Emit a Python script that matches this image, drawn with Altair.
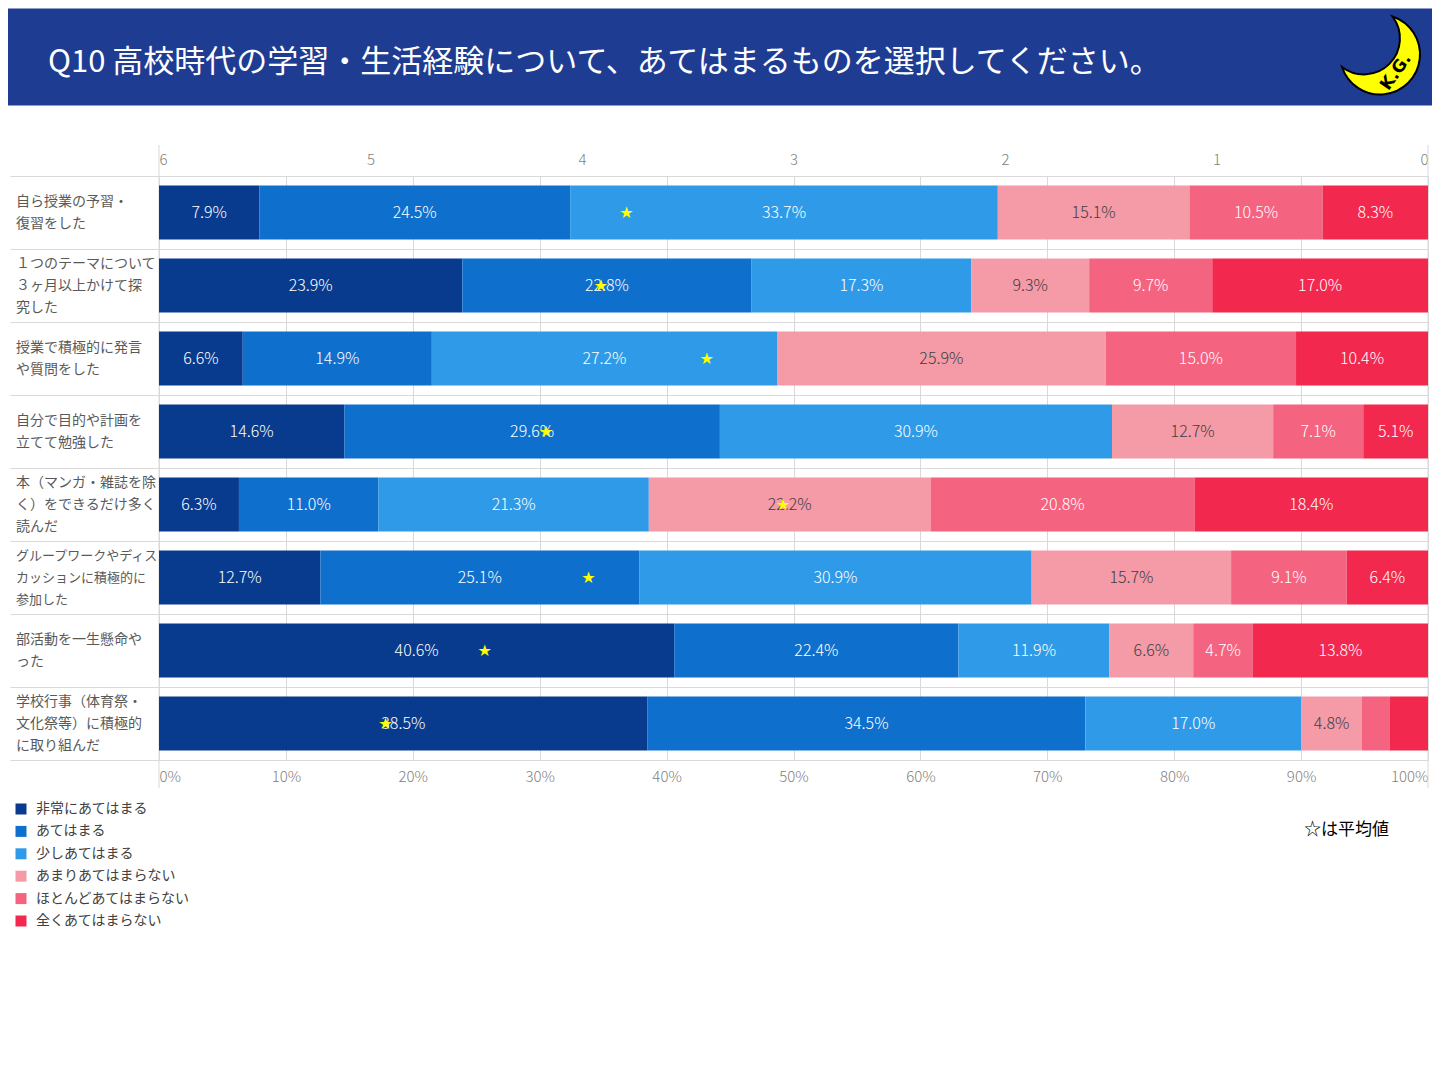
import altair as alt
import pandas as pd

FONT = "Noto Sans CJK JP"

title_text = ["Q10 高校時代の学習・生活経験について、あてはまるものを選択してください。"]
note_text = ["☆は平均値"]
logo_text = ["K.G."]

questions = [
    "自ら授業の予習・\n復習をした",
    "１つのテーマについて\n３ヶ月以上かけて探\n究した",
    "授業で積極的に発言\nや質問をした",
    "自分で目的や計画を\n立てて勉強した",
    "本（マンガ・雑誌を除\nく）をできるだけ多く\n読んだ",
    "グループワークやディス\nカッションに積極的に\n参加した",
    "部活動を一生懸命や\nった",
    "学校行事（体育祭・\n文化祭等）に積極的\nに取り組んだ",
]
categories = ["非常にあてはまる", "あてはまる", "少しあてはまる",
              "あまりあてはまらない", "ほとんどあてはまらない", "全くあてはまらない"]
colors = ["#083b8d", "#0f6fcd", "#2f9be8", "#f59aa7", "#f4637f", "#f2284f"]

s_very = [7.9, 23.9, 6.6, 14.6, 6.3, 12.7, 40.6, 38.5]
s_yes = [24.5, 22.8, 14.9, 29.6, 11.0, 25.1, 22.4, 34.5]
s_some = [33.7, 17.3, 27.2, 30.9, 21.3, 30.9, 11.9, 17.0]
s_notmuch = [15.1, 9.3, 25.9, 12.7, 22.2, 15.7, 6.6, 4.8]
s_hardly = [10.5, 9.7, 15.0, 7.1, 20.8, 9.1, 4.7, 2.2]
s_none = [8.3, 17.0, 10.4, 5.1, 18.4, 6.4, 13.8, 3.0]
means = [3.79, 3.91, 3.41, 4.17, 3.05, 3.97, 4.46, 4.93]

top_ticks = [6, 5, 4, 3, 2, 1, 0]
bottom_ticks = [0, 0.1, 0.2, 0.3, 0.4, 0.5, 0.6, 0.7, 0.8, 0.9, 1.0]
edge_vals = [0, 1]

series = [s_very, s_yes, s_some, s_notmuch, s_hardly, s_none]
rows = []
for qi, q in enumerate(questions):
    for ci, c in enumerate(categories):
        rows.append({"q": q, "cat": c, "order": ci, "pct": series[ci][qi]})
df = pd.DataFrame(rows)
df_mean = pd.DataFrame({"q": questions, "mean": means})

W, H = 1269, 584

yaxis = alt.Axis(
    grid=True, gridColor="#d9d9d9", tickBand="extent", ticks=True,
    tickColor="#d9d9d9", tickSize=149, domain=False, labels=False,
)
Y = alt.Y("q:N", scale=alt.Scale(domain=questions, paddingInner=0, paddingOuter=0),
          axis=yaxis, title=None)

stacked = alt.Chart(df).transform_stack(
    stack="pct", as_=["x0", "x1"], groupby=["q"], offset="normalize",
    sort=[alt.SortField("order", order="ascending")],
).transform_calculate(
    mid="(datum.x0 + datum.x1) / 2",
    lbl="format(datum.pct, '.1f') + '%'",
)

bars = stacked.mark_bar(height={"band": 0.74}).encode(
    x=alt.X("x0:Q", scale=alt.Scale(domain=[0, 1]), title=None,
            axis=alt.Axis(orient="bottom", values=bottom_ticks, format=".0%", grid=True,
                          gridColor="#d9d9d9", ticks=False, domain=False, labelFlush=True,
                          labelColor="#7f7f7f", labelFontSize=15, labelPadding=9,
                          labelFont=FONT, labelFontWeight=300)),
    x2="x1:Q",
    y=Y,
    color=alt.Color("cat:N", scale=alt.Scale(domain=categories, range=colors),
                    legend=alt.Legend(title=None, orient="none", legendX=-145, legendY=626,
                                      symbolType="square", symbolSize=121, labelFontSize=14,
                                      labelColor="#404040", rowPadding=8.4, labelFont=FONT,
                                      labelOffset=8, labelLimit=400, symbolStrokeWidth=0,
                                      padding=0)),
    order=alt.Order("order:Q"),
)

labels = stacked.transform_filter("datum.pct >= 4").mark_text(
    fontSize=16, font=FONT, fontWeight=300, baseline="middle", align="center"
).encode(
    x=alt.X("mid:Q", scale=alt.Scale(domain=[0, 1]), axis=None),
    y=Y,
    text="lbl:N",
    color=alt.condition("datum.cat == 'あまりあてはまらない'", alt.value("#404040"), alt.value("#ffffff")),
)

edges = alt.Chart(pd.DataFrame({"v": edge_vals})).mark_rule(color="#d9d9d9").encode(
    x=alt.X("v:Q", scale=alt.Scale(domain=[0, 1]), axis=None),
    y=alt.value(-31), y2=alt.value(H + 28),
)

stars = alt.Chart(df_mean).mark_text(text="★", fontSize=16, color="#ffff00",
                                     font="DejaVu Sans", baseline="middle").encode(
    x=alt.X("mean:Q", scale=alt.Scale(domain=[6, 0]), title=None,
            axis=alt.Axis(orient="top", values=top_ticks, format="d", grid=False, ticks=False,
                          domain=False, labelFlush=True, labelColor="#7f7f7f", labelFontSize=15,
                          labelPadding=9, labelFont=FONT, labelFontWeight=300)),
    y=Y,
)

qlab = alt.Chart(df_mean).transform_calculate(
    lines="split(datum.q, '\\n')",
).transform_calculate(
    n="length(datum.lines)",
    fs="length(datum.lines[0]) >= 11 ? 13 : 14",
)


def qlabel_layer(nlines, dy):
    return qlab.transform_filter(f"datum.n == {nlines}").mark_text(
        align="left", baseline="middle", font=FONT, color="#595959", lineHeight=22, dy=dy,
    ).encode(
        x=alt.value(-143),
        y=Y,
        text="lines:N",
        size=alt.Size("fs:Q", scale=None, legend=None),
    )


qlabels2 = qlabel_layer(2, -11)
qlabels3 = qlabel_layer(3, -22)

header = alt.Chart(pd.DataFrame({"t": title_text})).mark_rect(color="#1f3c93").encode(
    x=alt.value(-151), x2=alt.value(1273), y=alt.value(-167.5), y2=alt.value(-70.5),
)
title = alt.Chart(pd.DataFrame({"t": title_text})).mark_text(
    align="left", baseline="middle", fontSize=31, color="#ffffff", font=FONT
).encode(x=alt.value(-111), y=alt.value(-113.5), text="t:N")

moon_path = "M 0.312 -0.95 A 1 1 0 1 1 -0.95 0.312 A 0.9 0.9 0 0 0 0.312 -0.95 Z"
moon = alt.Chart(pd.DataFrame({"t": logo_text})).mark_point(
    shape=moon_path, filled=True, fill="#ffff00", stroke="#000000", strokeWidth=2,
    size=6400, opacity=1,
).encode(x=alt.value(1221), y=alt.value(-121.5))
kg = alt.Chart(pd.DataFrame({"t": logo_text})).mark_text(
    fontSize=17, fontWeight="bold", color="#000000", font="DejaVu Sans", angle=305,
    align="center", baseline="middle",
).encode(x=alt.value(1237), y=alt.value(-104), text="t:N")

note = alt.Chart(pd.DataFrame({"t": note_text})).mark_text(
    align="left", baseline="middle", fontSize=17, color="#000000", font=FONT
).encode(x=alt.value(1145), y=alt.value(653.5), text="t:N")

chart = alt.layer(header, title, moon, kg, edges, bars, labels, stars, qlabels2, qlabels3,
                  note).resolve_scale(
    x="independent"
).properties(width=W, height=H, padding=0, background="#ffffff").configure_view(
    stroke=None
)

chart.save("out.html", embed_options={"renderer": "svg", "actions": False})
